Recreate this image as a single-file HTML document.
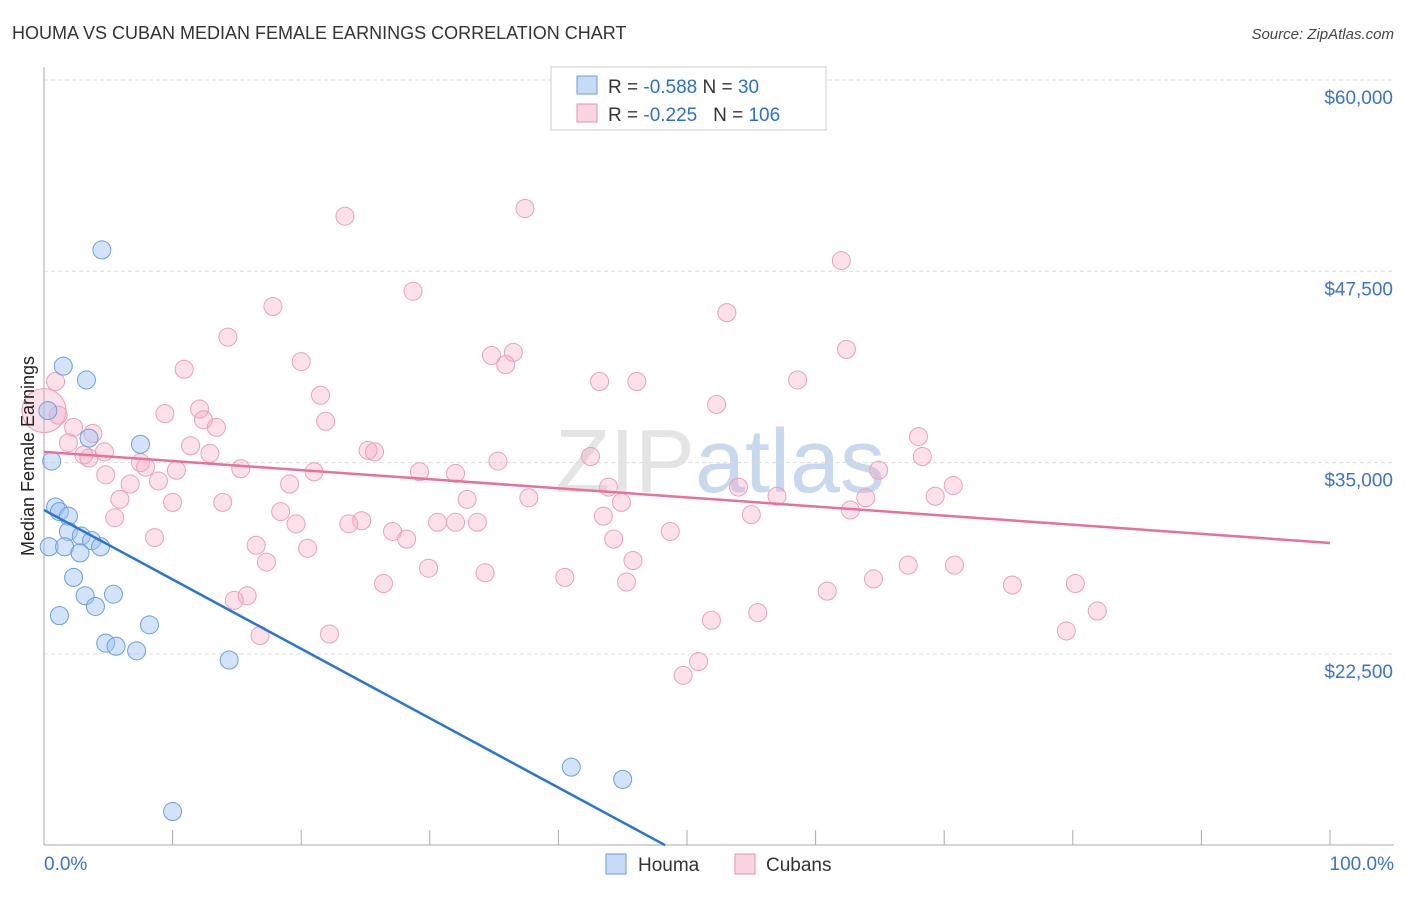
<!DOCTYPE html>
<html><head><meta charset="utf-8">
<style>
body{margin:0;background:#fff;font-family:"Liberation Sans",sans-serif;}
svg text{font-family:"Liberation Sans",sans-serif;}
</style></head>
<body>
<svg id="chart" width="1406" height="892" viewBox="0 0 1406 892" xmlns="http://www.w3.org/2000/svg">
<text x="12" y="39" font-size="18" fill="#333">HOUMA VS CUBAN MEDIAN FEMALE EARNINGS CORRELATION CHART</text>
<text x="1394" y="39" font-size="15" fill="#444" text-anchor="end" font-style="italic">Source: ZipAtlas.com</text>
<text x="720" y="492" font-size="90" fill="#e4e4e4" text-anchor="middle" font-family="Liberation Serif">ZIP<tspan fill="#c8d8ee" font-family="Liberation Sans">atlas</tspan></text>
<g id="grid"></g>
<g id="axes"></g>
<g id="pts"></g>
<g id="lines"></g>
<text transform="translate(34,456) rotate(-90)" font-size="18" fill="#222" text-anchor="middle">Median Female Earnings</text>
<g>
<rect x="551" y="67" width="275" height="63" fill="#fff" stroke="#ccc"/>
<rect x="577" y="76" width="20" height="18" fill="rgba(160,196,240,0.6)" stroke="#6a9ee0"/>
<text x="608" y="93" font-size="19" fill="#333">R = <tspan fill="#2a6fd6">-0.588</tspan>   N = <tspan fill="#2a6fd6">  30</tspan></text>
<rect x="577" y="104" width="20" height="18" fill="rgba(245,170,195,0.5)" stroke="#e890b0"/>
<text x="608" y="121" font-size="19" fill="#333" xml:space="preserve">R = <tspan fill="#2a6fd6">-0.225</tspan>   N = <tspan fill="#2a6fd6">106</tspan></text>
</g>
<g>
<rect x="606" y="854" width="20" height="20" fill="rgba(160,196,240,0.6)" stroke="#6a9ee0"/>
<text x="638" y="871" font-size="19" fill="#333">Houma</text>
<rect x="735" y="854" width="20" height="20" fill="rgba(245,170,195,0.5)" stroke="#e890b0"/>
<text x="766" y="871" font-size="19" fill="#333">Cubans</text>
</g>
</svg>
<script>
const yTicks=[60000,47500,35000,22500];
const yTickLabels=["$60,000","$47,500","$35,000","$22,500"];
const xTickLabels=["0.0%","100.0%"];
const houmaX=[4.5,1.5,3.3,0.3,3.5,7.5,0.6,0.9,1.2,1.9,1.9,2.9,3.7,0.4,1.6,2.8,4.4,2.3,3.2,5.4,1.2,4.0,8.2,4.8,5.6,7.2,14.4,41.0,45.0,10.0];
const houmaY=[48900,41300,40400,38400,36600,36200,35100,32100,31800,31500,30500,30200,29900,29500,29500,29100,29500,27500,26300,26400,25000,25600,24400,23200,23000,22700,22100,15100,14300,12200];
const cubanX=[23.4,37.4,62.0,17.8,28.7,53.1,14.3,62.4,20.0,34.8,36.5,35.9,10.9,43.2,46.1,58.6,0.9,21.5,52.3,12.1,9.4,1.1,21.9,12.4,13.4,2.3,3.8,68.0,11.4,1.9,25.2,25.7,12.9,3.1,4.7,7.5,3.5,35.3,42.5,68.3,64.9,15.3,10.3,7.9,21.0,4.8,29.2,32.0,6.7,8.9,19.1,54.0,70.7,43.9,32.9,37.7,63.9,69.3,57.0,5.9,13.9,10.0,44.9,18.4,62.7,5.5,43.5,55.0,19.6,24.7,23.7,30.6,32.0,33.7,27.1,48.7,8.6,28.2,44.3,16.5,20.5,45.8,17.3,29.9,34.3,40.5,67.2,70.8,45.3,64.5,26.4,75.3,80.2,60.9,15.8,14.8,55.5,81.9,51.9,16.8,22.2,79.5,50.9,49.7];
const cubanY=[51100,51600,48200,45200,46200,44800,43200,42400,41600,42000,42200,41400,41100,40300,40300,40400,40300,39400,38800,38500,38200,38100,37700,37800,37300,37300,36900,36700,36100,36300,35800,35700,35600,35500,35700,35000,35300,35100,35400,35400,34500,34600,34500,34700,34400,34200,34400,34300,33600,33800,33600,33400,33500,33400,32600,32700,32700,32800,32800,32600,32400,32400,32400,31800,31900,31400,31500,31600,31000,31200,31000,31100,31100,31100,30500,30500,30100,30000,30000,29600,29400,28600,28500,28100,27800,27500,28300,28300,27200,27400,27100,27000,27100,26600,26300,26000,25200,25300,24700,23700,23800,24000,22000,21100];
const cubanBigX=0, cubanBigY=38400;
const houmaTrend=[[0,31900],[48.3,10000]];
const cubanTrend=[[0,35700],[100,29750]];

const NS="http://www.w3.org/2000/svg";
const X=v=>44+v*12.86;
const Y=v=>80+(60000-v)/12500*191.3;
function mk(tag,attrs,parent){const e=document.createElementNS(NS,tag);for(const k in attrs)e.setAttribute(k,attrs[k]);parent.appendChild(e);return e;}
const grid=document.getElementById('grid'),axes=document.getElementById('axes'),pts=document.getElementById('pts'),lines=document.getElementById('lines');
yTicks.forEach((t,i)=>{
  const l=mk('line',{x1:44,x2:1394,y1:Y(t),y2:Y(t),stroke:'#ddd','stroke-dasharray':'4,3'},grid);
  
  
  const tx=mk('text',{x:1393,y:Y(t)+24,'font-size':19,fill:'#3a72d4','text-anchor':'end'},grid);
  tx.textContent=yTickLabels[i];
  
  
});
const ya=mk('line',{x1:44,x2:44,y1:67,y2:845,stroke:'#aaa'},axes);


const xa=mk('line',{x1:44,x2:1394,y1:845,y2:845,stroke:'#aaa'},axes);


for(let i=0;i<=10;i++){
  const t=mk('line',{x1:X(i*10),x2:X(i*10),y1:830,y2:845,stroke:'#aaa'},axes);
  
  
}
[[0,'start',44],[100,'end',1394]].forEach((d,i)=>{
  const tx=mk('text',{x:d[2],y:870,'font-size':19,fill:'#3a72d4','text-anchor':d[1]},axes);
  tx.textContent=xTickLabels[i];
  
  
});
const big=mk('circle',{cx:X(cubanBigX),cy:Y(cubanBigY),r:22,fill:'rgba(245,170,195,0.35)',stroke:'#eaa0bb','stroke-width':1},pts);


cubanX.forEach((x,i)=>{
  const c=mk('circle',{cx:X(x),cy:Y(cubanY[i]),r:9,fill:'rgba(245,170,195,0.35)',stroke:'#eaa0bb','stroke-width':1},pts);
  
  
});
houmaX.forEach((x,i)=>{
  const c=mk('circle',{cx:X(x),cy:Y(houmaY[i]),r:9,fill:'rgba(160,196,240,0.45)',stroke:'#6a9ee0','stroke-width':1},pts);
  
  
});
const ct=mk('line',{x1:X(cubanTrend[0][0]),y1:Y(cubanTrend[0][1]),x2:X(cubanTrend[1][0]),y2:Y(cubanTrend[1][1]),stroke:'#e8709a','stroke-width':2.5},lines);


const ht=mk('line',{x1:X(houmaTrend[0][0]),y1:Y(houmaTrend[0][1]),x2:X(houmaTrend[1][0]),y2:Y(houmaTrend[1][1]),stroke:'#2a74d9','stroke-width':2.5},lines);


</script>
</body></html>
